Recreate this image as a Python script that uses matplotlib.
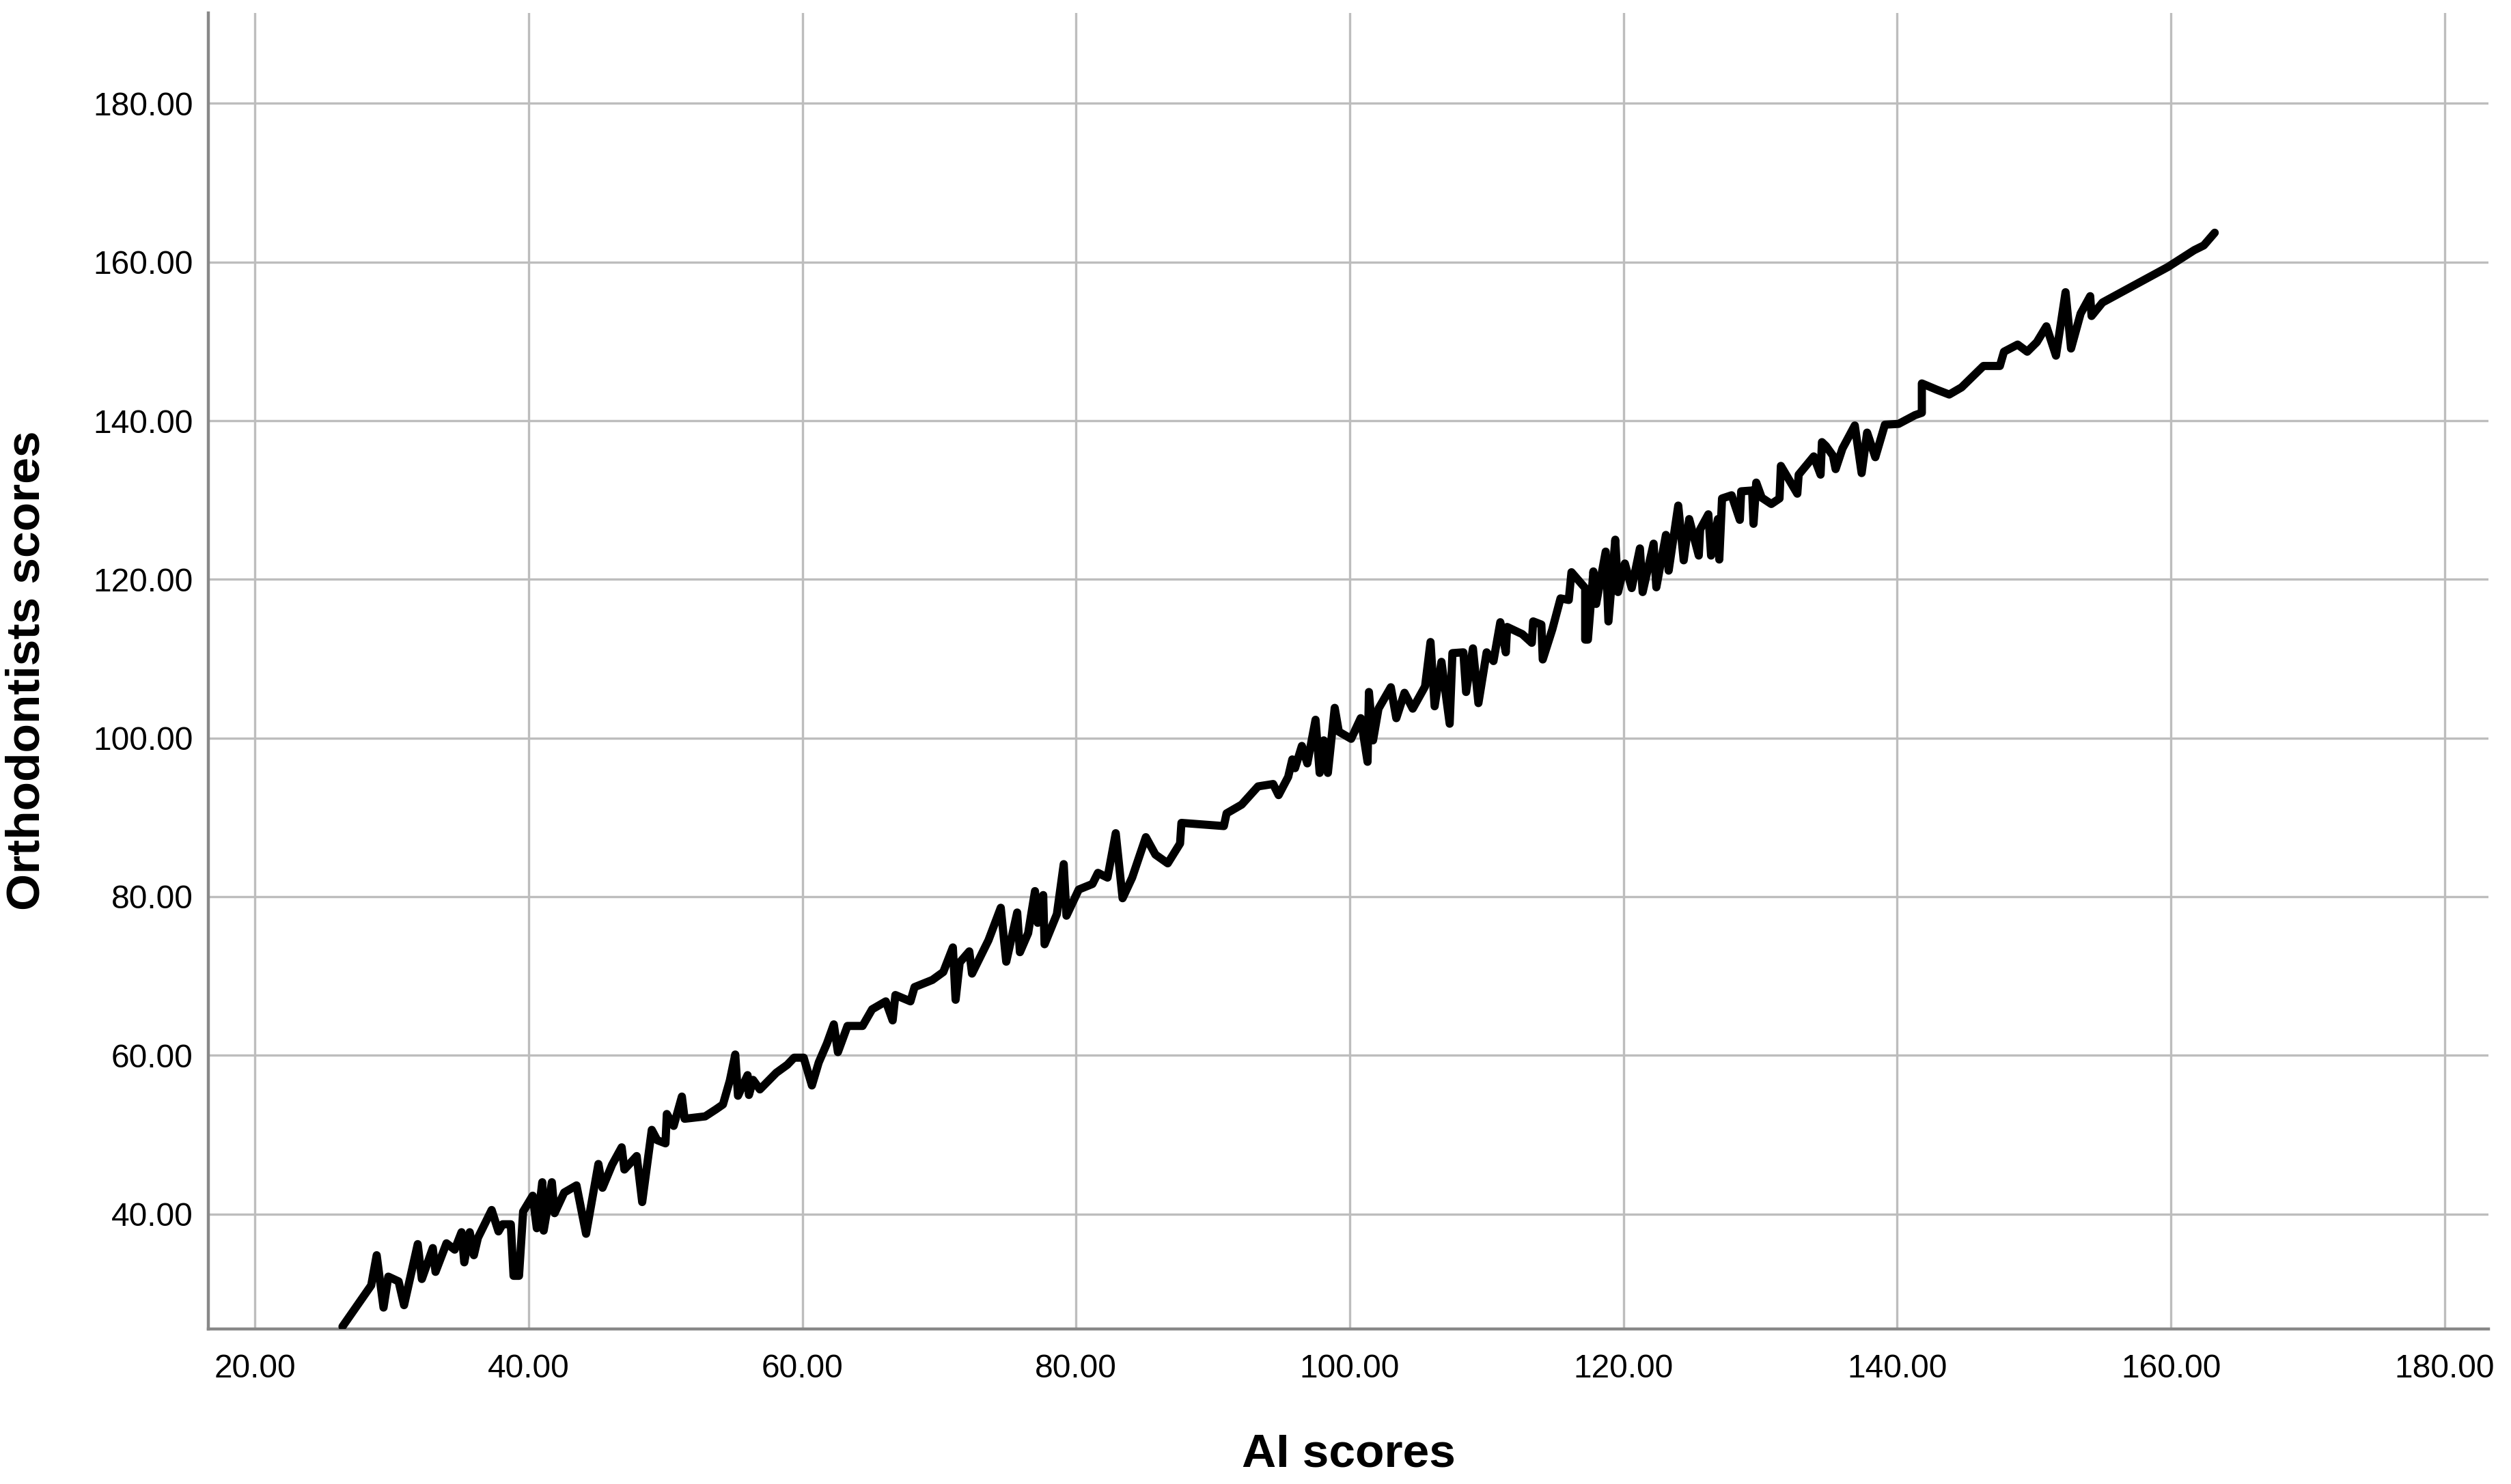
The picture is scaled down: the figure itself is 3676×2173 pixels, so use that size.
import matplotlib
matplotlib.use("Agg")
import matplotlib.pyplot as plt

# AI scores (x) and Orthodontists scores (y), sorted by AI score
ai_scores = [
    26.4, 28.5, 28.9, 29.4, 29.75, 30.5, 30.9, 31.9, 32.2, 33.0, 33.2, 34.0, 34.6, 35.1, 35.3,
    35.7, 36.0, 36.3, 37.3, 37.8, 38.1, 38.7, 38.9, 39.3, 39.6, 40.3, 40.6, 41.0, 41.1, 41.7,
    41.9, 42.6, 43.5, 44.2, 45.1, 45.4, 46.1, 46.8, 47.0, 47.9, 48.3, 49.0, 49.4,
    50.0, 50.1, 50.6, 51.2, 51.4, 52.9, 53.7, 54.2, 54.7, 55.1, 55.3, 56.0, 56.1, 56.4, 56.9,
    58.1, 58.9, 59.4, 60.1, 60.7, 61.2, 61.8, 62.3, 62.6, 63.3, 64.4, 65.1, 66.1, 66.6, 66.8,
    67.9, 68.2, 69.5, 70.3, 71.0, 71.2, 71.5, 72.2, 72.4, 73.6, 74.5, 74.9, 75.7, 75.9, 76.5,
    77.0, 77.2, 77.6, 77.7, 78.6, 79.1, 79.3, 80.2,
    81.2, 81.6, 82.3, 82.9, 83.4, 84.1, 85.1, 85.8, 86.7, 87.6, 87.7, 90.8, 91.0, 92.1, 93.3,
    94.4, 94.8, 95.5, 95.8, 96.0, 96.5, 96.9, 97.5, 97.8, 98.1, 98.4, 98.9, 99.2, 100.1, 100.8,
    101.3, 101.4, 101.7, 102.1, 103.0, 103.4, 104.0, 104.6, 105.5, 105.9,
    106.2, 106.7, 107.3, 107.5, 108.3, 108.5, 109.0, 109.4, 110.0, 110.5, 111.0, 111.4, 111.5,
    112.6, 113.3, 113.4, 114.0, 114.1, 114.8, 115.4, 116.0, 116.2, 117.2, 117.2, 117.4, 117.8,
    118.0, 118.7, 118.9, 119.4, 119.6, 120.1, 120.6, 121.2, 121.4, 122.2, 122.4, 123.1, 123.3,
    124.0, 124.4, 124.8, 125.5, 125.6, 126.2, 126.4, 126.9, 127.0, 127.2, 127.9, 128.5, 128.6,
    129.4, 129.5, 129.7, 130.1, 130.8, 131.4, 131.5,
    132.7, 132.8, 133.9, 134.4, 134.5, 134.8, 135.3, 135.5, 136.0, 136.9, 137.4, 137.8, 138.4,
    139.1, 140.1, 141.3, 141.8, 141.8, 142.9, 143.8, 144.7, 146.3, 147.5, 147.8, 148.8, 149.5,
    150.2, 150.9, 151.6, 152.3, 152.7, 153.4, 154.1, 154.2, 155.0, 159.8, 161.7, 162.4, 163.2,
]
orthodontist_scores = [
    25.8, 31.0, 34.8, 28.2, 32.1, 31.5, 28.5, 36.2, 31.8, 35.7, 32.7, 36.3, 35.5, 37.7, 33.9,
    37.7, 34.8, 37.0, 40.5, 37.8, 38.7, 38.7, 32.2, 32.2, 40.3, 42.3, 38.2, 44.0, 37.9, 44.0,
    40.1, 42.7, 43.6, 37.5, 46.3, 43.3, 46.2, 48.4, 45.6, 47.3, 41.5, 50.6, 49.3,
    48.9, 52.6, 51.1, 54.8, 52.0, 52.3, 53.2, 53.8, 56.8, 60.1, 54.9, 57.5, 55.0, 56.9, 55.7,
    57.8, 58.8, 59.7, 59.7, 56.2, 59.1, 61.5, 63.9, 60.4, 63.7, 63.7, 65.8, 66.8, 64.4, 67.6,
    66.8, 68.6, 69.5, 70.5, 73.6, 67.0, 71.7, 73.1, 70.3, 74.5, 78.6, 71.8, 78.0, 73.0, 75.4,
    80.7, 76.7, 80.2, 74.0, 77.8, 84.1, 77.6, 80.9,
    81.6, 83.0, 82.4, 88.0, 79.8, 82.4, 87.5, 85.3, 84.2, 86.7, 89.3, 88.9, 90.5, 91.6, 93.9,
    94.2, 92.8, 95.1, 97.3, 96.2, 99.0, 96.8, 102.3, 95.6, 99.7, 95.6, 103.8, 100.8, 99.9, 102.5,
    97.0, 105.8, 99.7, 103.7, 106.4, 102.5, 105.7, 103.7, 106.5, 112.1,
    104.0, 109.6, 101.8, 110.7, 110.8, 105.8, 111.3, 104.4, 110.8, 109.7, 114.6, 110.8, 114.0,
    113.1, 112.0, 114.7, 114.3, 109.9, 113.7, 117.6, 117.4, 120.9, 118.9, 112.4, 112.4, 121.0,
    116.9, 123.5, 114.7, 125.0, 118.4, 122.0, 118.9, 123.9, 118.4, 124.5, 119.0, 125.6, 121.1,
    129.3, 122.4, 127.6, 123.0, 126.3, 128.2, 123.0, 127.6, 122.5, 130.2, 130.6, 127.5, 131.1,
    131.2, 127.0, 132.2, 130.3, 129.5, 130.2, 134.3,
    130.8, 133.2, 135.5, 133.2, 137.3, 136.8, 135.6, 133.9, 136.5, 139.4, 133.4, 138.5, 135.4,
    139.5, 139.6, 140.7, 141.0, 144.7, 143.9, 143.3, 144.2, 146.9, 146.9, 148.7, 149.6, 148.7,
    149.9, 151.9, 148.2, 156.2, 149.1, 153.5, 155.7, 153.2, 154.9, 159.4, 161.5, 162.1, 163.7,
]

x_ticks = [20, 40, 60, 80, 100, 120, 140, 160, 180]
y_ticks = [40, 60, 80, 100, 120, 140, 160, 180]
x_label = "AI scores"
y_label = "Orthodontists scores"

W, H = 3676, 2173
DPI = 100
fig = plt.figure(figsize=(W / DPI, H / DPI), dpi=DPI, facecolor="white")

left_px, right_px, top_px, bottom_px = 305, 3643, 19, 1946
ax = fig.add_axes([left_px / W, 1 - bottom_px / H,
                   (right_px - left_px) / W, (bottom_px - top_px) / H])
ax.set_facecolor("white")

ax.plot(ai_scores, orthodontist_scores, color="black", linewidth=8.6,
        solid_joinstyle="round", solid_capstyle="round", zorder=3)

ax.set_xlim(16.6, 183.2)
ax.set_ylim(25.5, 191.4)
ax.set_xticks(x_ticks)
ax.set_yticks(y_ticks)
ax.set_xticklabels([f"{v:.2f}" for v in x_ticks])
ax.set_yticklabels([f"{v:.2f}" for v in y_ticks])

ax.grid(True, color="#bdbdbd", linewidth=2.4, zorder=0)
ax.set_axisbelow(True)

for side in ("top", "right"):
    ax.spines[side].set_visible(False)
for side in ("left", "bottom"):
    ax.spines[side].set_color("#888888")
    ax.spines[side].set_linewidth(3.2)

tick_font = dict(family=["Liberation Sans", "DejaVu Sans"], size=34.5)
ax.tick_params(axis="both", length=0, colors="black")
ax.tick_params(axis="x", pad=26)
ax.tick_params(axis="y", pad=16)
for lab in ax.get_xticklabels() + ax.get_yticklabels():
    lab.set_fontfamily(tick_font["family"])
    lab.set_fontsize(tick_font["size"])

label_font = dict(family=["Liberation Sans", "DejaVu Sans"], size=50, weight="bold")
fig.text(1974 / W, 1 - 2130 / H, x_label, ha="center", va="center", **label_font)
fig.text(40 / W, 1 - 982 / H, y_label, ha="center", va="center", rotation=90, **label_font)

fig.savefig("out.png", dpi=DPI, facecolor="white")
